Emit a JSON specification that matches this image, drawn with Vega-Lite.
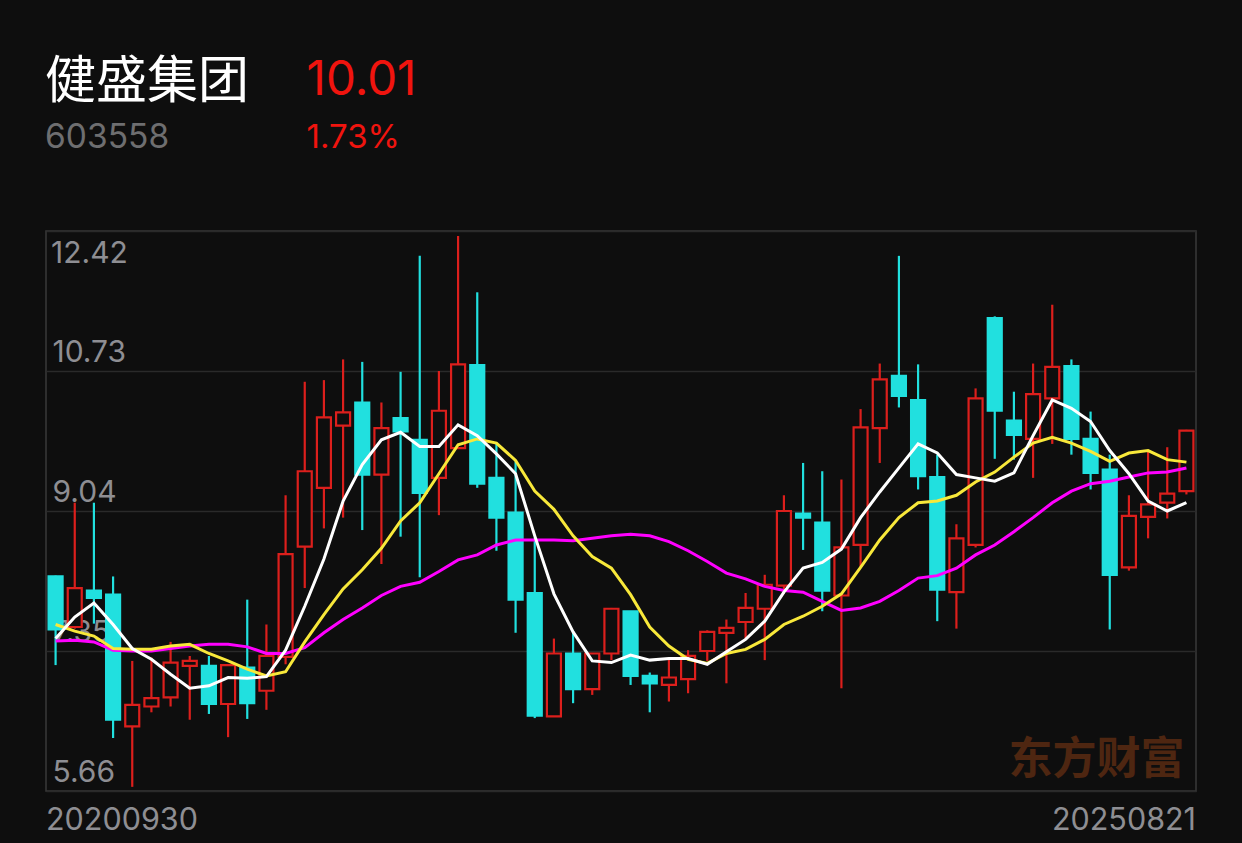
{
  "$schema": "https://vega.github.io/schema/vega-lite/v6.json",
  "width": 1150,
  "height": 560,
  "autosize": {"type": "none"},
  "padding": {"left": 46, "top": 231, "right": 46, "bottom": 52},
  "background": "#0e0e0e",
  "config": {
    "view": {"stroke": "#3a3a3a", "strokeWidth": 1.5},
    "font": "Inter"
  },
  "data": {
    "values": [
      {"m": "2020-09", "o": 8.25, "h": 8.26, "l": 7.18, "c": 7.61, "ma5": 7.50, "ma10": 7.67, "ma20": 7.47},
      {"m": "2020-10", "o": 7.64, "h": 9.14, "l": 7.62, "c": 8.11, "ma5": 7.76, "ma10": 7.59, "ma20": 7.48},
      {"m": "2020-11", "o": 8.08, "h": 9.14, "l": 7.68, "c": 7.99, "ma5": 7.93, "ma10": 7.53, "ma20": 7.46},
      {"m": "2020-12", "o": 8.03, "h": 8.25, "l": 6.30, "c": 6.52, "ma5": 7.67, "ma10": 7.38, "ma20": 7.36},
      {"m": "2021-01", "o": 6.44, "h": 7.23, "l": 5.71, "c": 6.70, "ma5": 7.38, "ma10": 7.37, "ma20": 7.35},
      {"m": "2021-02", "o": 6.68, "h": 7.27, "l": 6.61, "c": 6.78, "ma5": 7.25, "ma10": 7.37, "ma20": 7.35},
      {"m": "2021-03", "o": 6.79, "h": 7.46, "l": 6.68, "c": 7.21, "ma5": 7.07, "ma10": 7.41, "ma20": 7.38},
      {"m": "2021-04", "o": 7.17, "h": 7.29, "l": 6.52, "c": 7.23, "ma5": 6.90, "ma10": 7.43, "ma20": 7.41},
      {"m": "2021-05", "o": 7.17, "h": 7.29, "l": 6.59, "c": 6.71, "ma5": 6.93, "ma10": 7.32, "ma20": 7.43},
      {"m": "2021-06", "o": 6.71, "h": 7.19, "l": 6.31, "c": 7.18, "ma5": 7.03, "ma10": 7.23, "ma20": 7.43},
      {"m": "2021-07", "o": 7.15, "h": 7.97, "l": 6.53, "c": 6.72, "ma5": 7.02, "ma10": 7.13, "ma20": 7.40},
      {"m": "2021-08", "o": 6.87, "h": 7.67, "l": 6.64, "c": 7.29, "ma5": 7.04, "ma10": 7.05, "ma20": 7.32},
      {"m": "2021-09", "o": 7.28, "h": 9.23, "l": 7.19, "c": 8.52, "ma5": 7.36, "ma10": 7.10, "ma20": 7.32},
      {"m": "2021-10", "o": 8.61, "h": 10.60, "l": 8.11, "c": 9.52, "ma5": 7.89, "ma10": 7.46, "ma20": 7.39},
      {"m": "2021-11", "o": 9.32, "h": 10.62, "l": 8.83, "c": 10.17, "ma5": 8.46, "ma10": 7.79, "ma20": 7.57},
      {"m": "2021-12", "o": 10.07, "h": 10.87, "l": 8.96, "c": 10.23, "ma5": 9.16, "ma10": 8.10, "ma20": 7.73},
      {"m": "2022-01", "o": 10.35, "h": 10.84, "l": 8.81, "c": 9.48, "ma5": 9.60, "ma10": 8.33, "ma20": 7.87},
      {"m": "2022-02", "o": 9.48, "h": 10.35, "l": 8.40, "c": 10.04, "ma5": 9.90, "ma10": 8.59, "ma20": 8.02},
      {"m": "2022-03", "o": 10.16, "h": 10.72, "l": 8.73, "c": 10.00, "ma5": 9.99, "ma10": 8.92, "ma20": 8.13},
      {"m": "2022-04", "o": 9.90, "h": 12.12, "l": 8.24, "c": 9.26, "ma5": 9.82, "ma10": 9.14, "ma20": 8.18},
      {"m": "2022-05", "o": 9.44, "h": 10.73, "l": 8.99, "c": 10.25, "ma5": 9.82, "ma10": 9.49, "ma20": 8.31},
      {"m": "2022-06", "o": 9.80, "h": 12.36, "l": 9.80, "c": 10.81, "ma5": 10.08, "ma10": 9.84, "ma20": 8.45},
      {"m": "2022-07", "o": 10.80, "h": 11.68, "l": 9.32, "c": 9.37, "ma5": 9.95, "ma10": 9.91, "ma20": 8.51},
      {"m": "2022-08", "o": 9.44, "h": 9.87, "l": 8.56, "c": 8.96, "ma5": 9.73, "ma10": 9.86, "ma20": 8.63},
      {"m": "2022-09", "o": 9.02, "h": 9.64, "l": 7.57, "c": 7.97, "ma5": 9.49, "ma10": 9.65, "ma20": 8.69},
      {"m": "2022-10", "o": 8.05, "h": 8.72, "l": 6.54, "c": 6.57, "ma5": 8.74, "ma10": 9.28, "ma20": 8.69},
      {"m": "2022-11", "o": 6.56, "h": 7.50, "l": 6.56, "c": 7.32, "ma5": 8.04, "ma10": 9.06, "ma20": 8.69},
      {"m": "2022-12", "o": 7.32, "h": 7.59, "l": 6.72, "c": 6.89, "ma5": 7.58, "ma10": 8.74, "ma20": 8.68},
      {"m": "2023-01", "o": 6.89, "h": 7.32, "l": 6.82, "c": 7.32, "ma5": 7.23, "ma10": 8.49, "ma20": 8.71},
      {"m": "2023-02", "o": 7.32, "h": 7.87, "l": 7.24, "c": 7.86, "ma5": 7.21, "ma10": 8.35, "ma20": 8.74},
      {"m": "2023-03", "o": 7.83, "h": 7.83, "l": 6.94, "c": 7.05, "ma5": 7.30, "ma10": 8.03, "ma20": 8.76},
      {"m": "2023-04", "o": 7.05, "h": 7.09, "l": 6.61, "c": 6.96, "ma5": 7.24, "ma10": 7.64, "ma20": 8.74},
      {"m": "2023-05", "o": 6.94, "h": 7.25, "l": 6.74, "c": 7.03, "ma5": 7.26, "ma10": 7.41, "ma20": 8.67},
      {"m": "2023-06", "o": 7.01, "h": 7.36, "l": 6.84, "c": 7.29, "ma5": 7.26, "ma10": 7.25, "ma20": 8.56},
      {"m": "2023-07", "o": 7.35, "h": 7.60, "l": 7.23, "c": 7.58, "ma5": 7.19, "ma10": 7.20, "ma20": 8.43},
      {"m": "2023-08", "o": 7.57, "h": 7.73, "l": 6.96, "c": 7.63, "ma5": 7.34, "ma10": 7.32, "ma20": 8.29},
      {"m": "2023-09", "o": 7.70, "h": 8.05, "l": 7.49, "c": 7.87, "ma5": 7.49, "ma10": 7.37, "ma20": 8.22},
      {"m": "2023-10", "o": 7.86, "h": 8.27, "l": 7.24, "c": 8.15, "ma5": 7.71, "ma10": 7.49, "ma20": 8.13},
      {"m": "2023-11", "o": 8.14, "h": 9.23, "l": 8.04, "c": 9.04, "ma5": 8.06, "ma10": 7.67, "ma20": 8.08},
      {"m": "2023-12", "o": 9.01, "h": 9.62, "l": 8.57, "c": 8.96, "ma5": 8.35, "ma10": 7.77, "ma20": 8.06},
      {"m": "2024-01", "o": 8.90, "h": 9.52, "l": 7.83, "c": 8.08, "ma5": 8.42, "ma10": 7.89, "ma20": 7.95},
      {"m": "2024-02", "o": 8.02, "h": 9.42, "l": 6.90, "c": 8.60, "ma5": 8.58, "ma10": 8.04, "ma20": 7.84},
      {"m": "2024-03", "o": 8.63, "h": 10.27, "l": 8.37, "c": 10.05, "ma5": 8.96, "ma10": 8.36, "ma20": 7.87},
      {"m": "2024-04", "o": 10.04, "h": 10.82, "l": 9.62, "c": 10.63, "ma5": 9.27, "ma10": 8.69, "ma20": 7.95},
      {"m": "2024-05", "o": 10.67, "h": 12.12, "l": 10.29, "c": 10.43, "ma5": 9.56, "ma10": 8.96, "ma20": 8.08},
      {"m": "2024-06", "o": 10.38, "h": 10.81, "l": 9.30, "c": 9.46, "ma5": 9.85, "ma10": 9.14, "ma20": 8.23},
      {"m": "2024-07", "o": 9.45, "h": 9.72, "l": 7.71, "c": 8.09, "ma5": 9.74, "ma10": 9.16, "ma20": 8.26},
      {"m": "2024-08", "o": 8.06, "h": 8.88, "l": 7.62, "c": 8.71, "ma5": 9.48, "ma10": 9.23, "ma20": 8.35},
      {"m": "2024-09", "o": 8.63, "h": 10.52, "l": 8.60, "c": 10.40, "ma5": 9.44, "ma10": 9.39, "ma20": 8.51},
      {"m": "2024-10", "o": 11.37, "h": 11.39, "l": 9.67, "c": 10.25, "ma5": 9.40, "ma10": 9.51, "ma20": 8.63},
      {"m": "2024-11", "o": 10.13, "h": 10.48, "l": 9.66, "c": 9.96, "ma5": 9.50, "ma10": 9.69, "ma20": 8.79},
      {"m": "2024-12", "o": 9.91, "h": 10.82, "l": 9.44, "c": 10.45, "ma5": 9.95, "ma10": 9.86, "ma20": 8.96},
      {"m": "2025-01", "o": 10.40, "h": 11.53, "l": 9.85, "c": 10.78, "ma5": 10.38, "ma10": 9.93, "ma20": 9.14},
      {"m": "2025-02", "o": 10.79, "h": 10.87, "l": 9.72, "c": 9.91, "ma5": 10.28, "ma10": 9.86, "ma20": 9.28},
      {"m": "2025-03", "o": 9.91, "h": 10.24, "l": 9.30, "c": 9.50, "ma5": 10.12, "ma10": 9.76, "ma20": 9.37},
      {"m": "2025-04", "o": 9.54, "h": 9.72, "l": 7.61, "c": 8.27, "ma5": 9.77, "ma10": 9.64, "ma20": 9.40},
      {"m": "2025-05", "o": 8.36, "h": 9.23, "l": 8.32, "c": 8.98, "ma5": 9.49, "ma10": 9.74, "ma20": 9.45},
      {"m": "2025-06", "o": 8.97, "h": 9.76, "l": 8.71, "c": 9.12, "ma5": 9.16, "ma10": 9.77, "ma20": 9.50},
      {"m": "2025-07", "o": 9.14, "h": 9.81, "l": 8.95, "c": 9.25, "ma5": 9.04, "ma10": 9.66, "ma20": 9.51},
      {"m": "2025-08", "o": 9.28, "h": 10.02, "l": 9.24, "c": 10.01, "ma5": 9.14, "ma10": 9.63, "ma20": 9.56}
    ]
  },
  "layer": [
    {
      "mark": {"type": "rule", "strokeWidth": 2.2},
      "encoding": {
        "x": {
          "field": "m",
          "type": "ordinal",
          "scale": {"paddingInner": 0, "paddingOuter": 0},
          "axis": {
            "title": null,
            "labelExpr": "datum.value == '2020-09' ? '20200930' : (datum.value == '2025-08' ? '20250821' : '')",
            "labelAngle": 0,
            "ticks": false,
            "domain": false,
            "grid": false,
            "labelFont": "Inter",
            "labelFontSize": 30.5,
            "labelColor": "#8e8e93",
            "labelPadding": 14,
            "labelOverlap": false,
            "labelBound": false,
            "labelFlush": false,
            "labelAlign": {"condition": {"test": "datum.value == '2020-09'", "value": "left"}, "value": "right"},
            "labelOffset": {"condition": {"test": "datum.value == '2020-09'", "value": -9.6}, "value": 9.6}
          }
        },
        "y": {
          "field": "l",
          "type": "quantitative",
          "scale": {"domain": [5.66, 12.42], "nice": false, "zero": false},
          "axis": {
            "title": null,
            "values": [5.66, 7.35, 9.04, 10.73, 12.42],
            "labelExpr": "datum.value > 12 ? '' : format(datum.value, '.2f')",
            "domain": false,
            "ticks": false,
            "grid": true,
            "gridColor": "#2a2a2a",
            "gridWidth": 1.5,
            "labelAlign": "left",
            "labelPadding": -6,
            "labelFont": "Inter",
            "labelFontSize": 30,
            "labelColor": "#8e8e93",
            "labelBaseline": "alphabetic",
            "labelOffset": -10,
            "labelOverlap": false,
            "labelBound": false,
            "labelFlush": false
          }
        },
        "y2": {"field": "h"},
        "color": {"condition": {"test": "datum.c >= datum.o", "value": "#dc1f1c"}, "value": "#21e0df"}
      }
    },
    {
      "mark": {"type": "bar", "width": 14, "strokeWidth": 2.2},
      "encoding": {
        "x": {"field": "m", "type": "ordinal"},
        "y": {"field": "o", "type": "quantitative"},
        "y2": {"field": "c"},
        "fill": {"condition": {"test": "datum.c >= datum.o", "value": "#0e0e0e"}, "value": "#21e0df"},
        "stroke": {"condition": {"test": "datum.c >= datum.o", "value": "#dc1f1c"}, "value": "#21e0df"}
      }
    },
    {
      "mark": {"type": "line", "strokeWidth": 3, "color": "#ff00ff"},
      "encoding": {"x": {"field": "m", "type": "ordinal"}, "y": {"field": "ma20", "type": "quantitative"}}
    },
    {
      "mark": {"type": "line", "strokeWidth": 3, "color": "#f8e83a"},
      "encoding": {"x": {"field": "m", "type": "ordinal"}, "y": {"field": "ma10", "type": "quantitative"}}
    },
    {
      "mark": {"type": "line", "strokeWidth": 3, "color": "#ffffff"},
      "encoding": {"x": {"field": "m", "type": "ordinal"}, "y": {"field": "ma5", "type": "quantitative"}}
    },
    {
      "data": {"values": [{"t": "12.42"}]},
      "mark": {"type": "text", "font": "Inter", "fontSize": 30, "align": "left", "baseline": "alphabetic", "color": "#8e8e93", "dx": -4.5, "dy": 32},
      "encoding": {
        "x": {"datum": "2020-09", "type": "ordinal"},
        "y": {"datum": 12.42, "type": "quantitative"},
        "text": {"field": "t"}
      }
    },
    {
      "data": {"values": [{"t": "东方财富"}]},
      "mark": {"type": "text", "font": "Noto Sans CJK SC", "fontWeight": "bold", "fontSize": 44, "align": "right", "baseline": "alphabetic", "color": "#4e2611", "dx": -2},
      "encoding": {
        "x": {"datum": "2025-08", "type": "ordinal"},
        "y": {"datum": 5.87, "type": "quantitative"},
        "text": {"field": "t"}
      }
    },
    {
      "data": {"values": [{"t": "健盛集团"}]},
      "mark": {"type": "text", "font": "Noto Sans CJK SC", "fontSize": 51, "align": "left", "baseline": "alphabetic", "color": "#ffffff", "dx": -10.5},
      "encoding": {
        "x": {"datum": "2020-09", "type": "ordinal"},
        "y": {"datum": 14.025, "type": "quantitative"},
        "text": {"field": "t"}
      }
    },
    {
      "data": {"values": [{"t": "603558"}]},
      "mark": {"type": "text", "fontSize": 33.5, "align": "left", "baseline": "alphabetic", "color": "#6e6e70", "dx": -10.5},
      "encoding": {
        "x": {"datum": "2020-09", "type": "ordinal"},
        "y": {"datum": 13.418, "type": "quantitative"},
        "text": {"field": "t"}
      }
    },
    {
      "data": {"values": [{"t": "10.01"}]},
      "mark": {"type": "text", "fontSize": 47.5, "align": "left", "baseline": "alphabetic", "color": "#f0140e", "dx": 251},
      "encoding": {
        "x": {"datum": "2020-09", "type": "ordinal"},
        "y": {"datum": 14.062, "type": "quantitative"},
        "text": {"field": "t"}
      }
    },
    {
      "data": {"values": [{"t": "1.73%"}]},
      "mark": {"type": "text", "fontSize": 33, "align": "left", "baseline": "alphabetic", "color": "#f0140e", "dx": 251},
      "encoding": {
        "x": {"datum": "2020-09", "type": "ordinal"},
        "y": {"datum": 13.418, "type": "quantitative"},
        "text": {"field": "t"}
      }
    }
  ]
}
